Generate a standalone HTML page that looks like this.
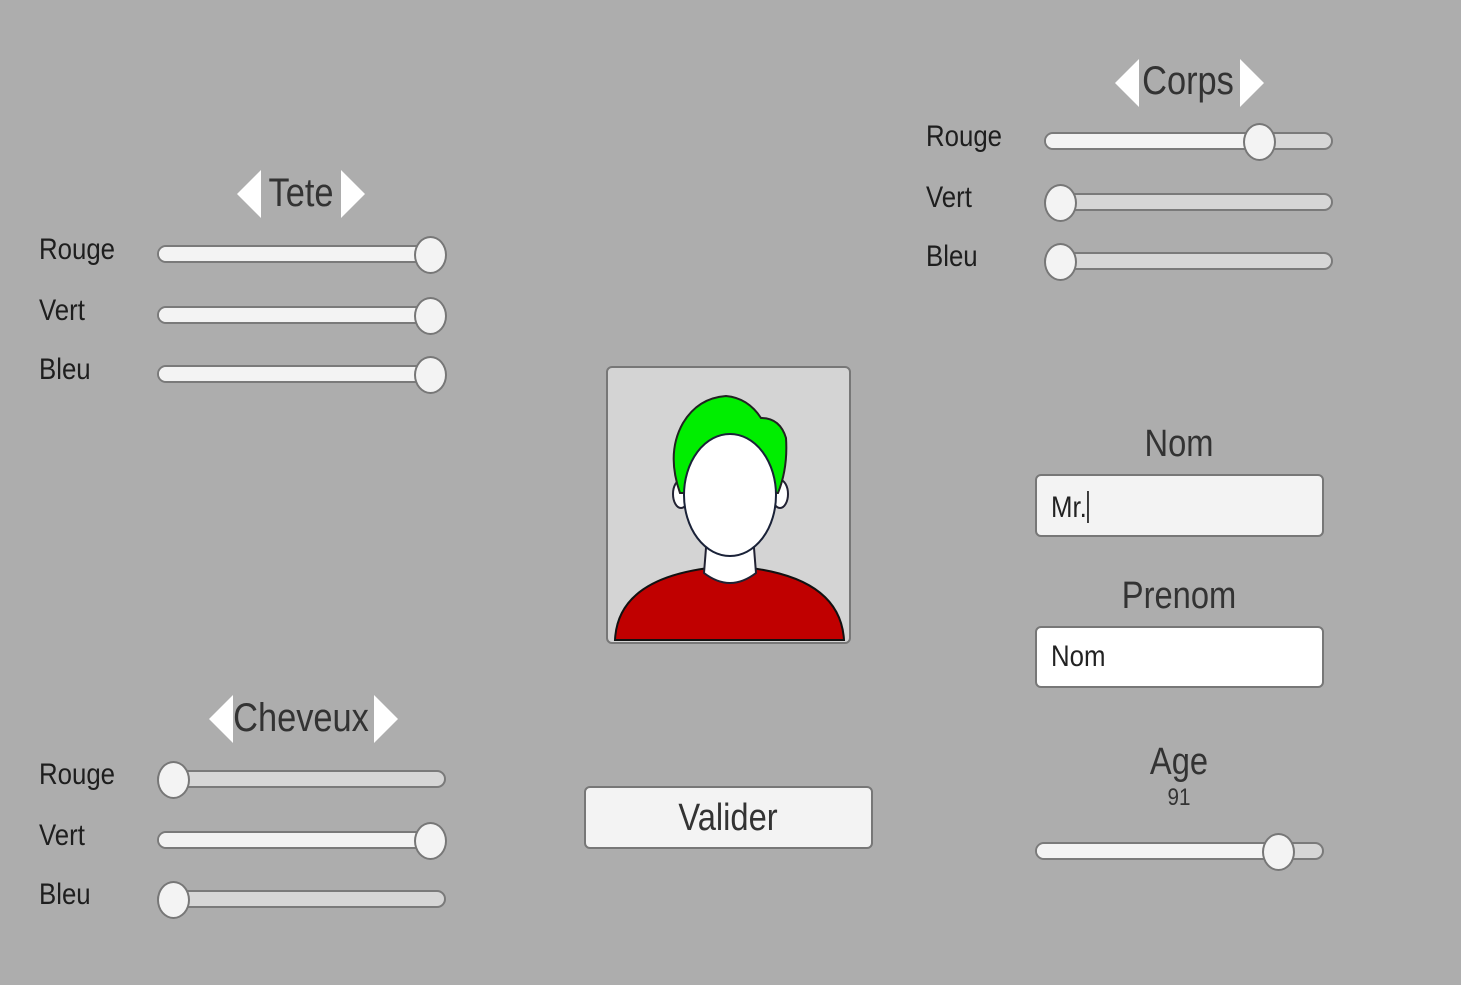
<!DOCTYPE html>
<html><head><meta charset="utf-8"><style>
body{margin:0;width:1461px;height:985px;background:#adadad;position:relative;overflow:hidden;font-family:"Liberation Sans",sans-serif;color:#222}
.a{position:absolute}
.lbl{position:absolute;font-size:30px;line-height:30px;transform:scaleX(.86);transform-origin:left center;color:#1e1e1e}
.ttl{position:absolute;font-size:40px;line-height:40px;transform:translateX(-50%) scaleX(.86);color:#333;white-space:nowrap}
.tr{position:absolute;width:285px;height:14px;border:2px solid #7a7a7a;border-radius:9px;background:#d6d6d6;overflow:hidden}
.tr i{position:absolute;left:0;top:0;bottom:0;background:#f3f3f3}
.th{position:absolute;width:29px;height:34px;border:2px solid #777;border-radius:50%;background:#f3f3f3}
.tl{position:absolute;width:0;height:0;border-top:24px solid transparent;border-bottom:24px solid transparent;border-right:24px solid #fff}
.trr{position:absolute;width:0;height:0;border-top:24px solid transparent;border-bottom:24px solid transparent;border-left:24px solid #fff}
.box{position:absolute;border:2px solid #777;border-radius:6px}
</style></head><body>

<!-- Tete -->
<div class="tl" style="left:237px;top:170px"></div>
<div class="ttl" style="left:301px;top:173px">Tete</div>
<div class="trr" style="left:341px;top:170px"></div>
<div class="lbl" style="left:39px;top:235px">Rouge</div>
<div class="lbl" style="left:39px;top:296px">Vert</div>
<div class="lbl" style="left:39px;top:355px">Bleu</div>
<div class="tr" style="left:157px;top:245px"><i style="width:285px"></i></div><div class="th" style="left:414px;top:236px"></div>
<div class="tr" style="left:157px;top:306px"><i style="width:285px"></i></div><div class="th" style="left:414px;top:297px"></div>
<div class="tr" style="left:157px;top:365px"><i style="width:285px"></i></div><div class="th" style="left:414px;top:356px"></div>

<!-- Cheveux -->
<div class="tl" style="left:209px;top:695px"></div>
<div class="ttl" style="left:301px;top:698px">Cheveux</div>
<div class="trr" style="left:374px;top:695px"></div>
<div class="lbl" style="left:39px;top:760px">Rouge</div>
<div class="lbl" style="left:39px;top:821px">Vert</div>
<div class="lbl" style="left:39px;top:880px">Bleu</div>
<div class="tr" style="left:157px;top:770px"><i style="width:10px"></i></div><div class="th" style="left:157px;top:761px"></div>
<div class="tr" style="left:157px;top:831px"><i style="width:285px"></i></div><div class="th" style="left:414px;top:822px"></div>
<div class="tr" style="left:157px;top:890px"><i style="width:10px"></i></div><div class="th" style="left:157px;top:881px"></div>

<!-- Corps -->
<div class="tl" style="left:1115px;top:59px"></div>
<div class="ttl" style="left:1188px;top:61px">Corps</div>
<div class="trr" style="left:1240px;top:59px"></div>
<div class="lbl" style="left:926px;top:122px">Rouge</div>
<div class="lbl" style="left:926px;top:183px">Vert</div>
<div class="lbl" style="left:926px;top:242px">Bleu</div>
<div class="tr" style="left:1044px;top:132px"><i style="width:215px"></i></div><div class="th" style="left:1243px;top:123px"></div>
<div class="tr" style="left:1044px;top:193px"><i style="width:10px"></i></div><div class="th" style="left:1044px;top:184px"></div>
<div class="tr" style="left:1044px;top:252px"><i style="width:10px"></i></div><div class="th" style="left:1044px;top:243px"></div>

<!-- Portrait -->
<div class="box" style="left:606px;top:366px;width:241px;height:274px;background:#d4d4d4;overflow:hidden">
<svg width="241" height="274" viewBox="0 0 241 274">
<path d="M7 272 Q10 205 122 198 Q232 205 236 272 Z" fill="#c00000" stroke="#111" stroke-width="2"/>
<path d="M98 180 L96 205 Q122 225 148 205 L146 180 Z" fill="#fff" stroke="#223" stroke-width="2"/>
<ellipse cx="73" cy="126" rx="8" ry="14" fill="#fff" stroke="#223" stroke-width="2"/>
<ellipse cx="172" cy="126" rx="8" ry="14" fill="#fff" stroke="#223" stroke-width="2"/>
<path d="M72 125 Q58 85 75 55 Q90 30 118 28 Q140 30 153 50 Q172 50 178 70 Q180 100 170 125 Z" fill="#00ee00" stroke="#222" stroke-width="2"/>
<ellipse cx="122" cy="127" rx="46" ry="61" fill="#fff" stroke="#1a2238" stroke-width="2"/>
</svg></div>

<!-- Nom -->
<div class="ttl" style="left:1179px;top:424px;font-size:38px">Nom</div>
<div class="box" style="left:1035px;top:474px;width:285px;height:59px;background:#f3f3f3"></div>
<div class="lbl" style="left:1051px;top:491px;font-size:30px;color:#222">Mr.<span style="display:inline-block;width:2px;height:32px;background:#222;vertical-align:-6px"></span></div>
<div class="ttl" style="left:1179px;top:576px;font-size:38px">Prenom</div>
<div class="box" style="left:1035px;top:626px;width:285px;height:58px;background:#fff"></div>
<div class="lbl" style="left:1051px;top:642px;font-size:30px;color:#222">Nom</div>

<!-- Age -->
<div class="ttl" style="left:1179px;top:742px;font-size:38px">Age</div>
<div class="ttl" style="left:1179px;top:786px;font-size:24px;line-height:24px">91</div>
<div class="tr" style="left:1035px;top:842px"><i style="width:243px"></i></div><div class="th" style="left:1262px;top:833px"></div>

<!-- Valider -->
<div class="box" style="left:584px;top:786px;width:285px;height:59px;background:#f3f3f3"></div>
<div class="ttl" style="left:728px;top:798px;font-size:38px">Valider</div>

</body></html>
